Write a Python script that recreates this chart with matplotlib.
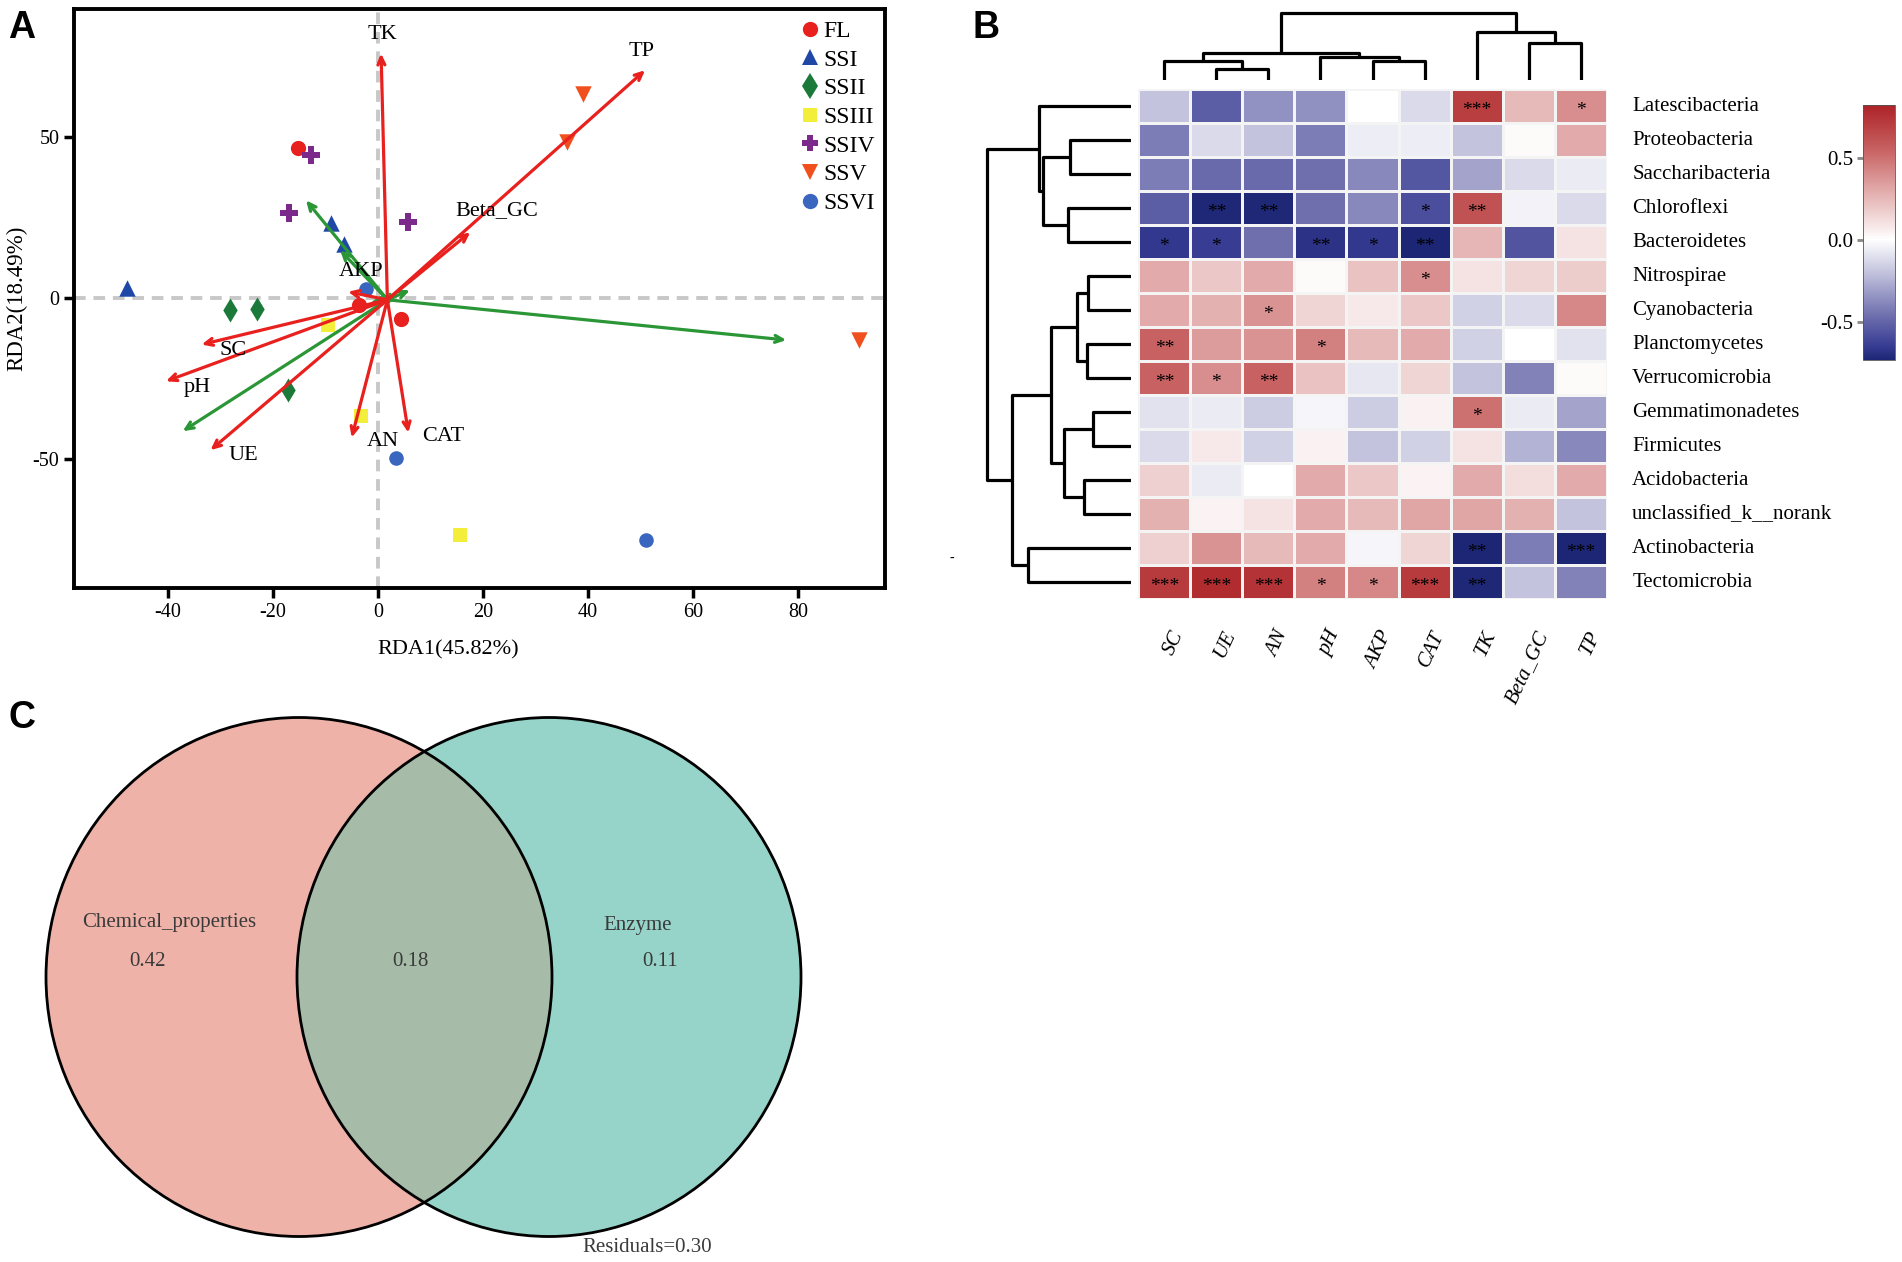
import numpy as np
import matplotlib
matplotlib.use("Agg")
import matplotlib.pyplot as plt
from matplotlib.colors import LinearSegmentedColormap, Normalize
from matplotlib.patches import Ellipse
from matplotlib.lines import Line2D

plt.rcParams['font.family'] = ['Liberation Serif', 'DejaVu Serif']
plt.rcParams['axes.unicode_minus'] = False

W, H = 1902, 1262

# ---------------- Panel A data (RDA) ----------------
groups = ["FL", "SSI", "SSII", "SSIII", "SSIV", "SSV", "SSVI"]
group_colors = ["#e8201e", "#1f48a6", "#1b7a3a", "#f2ee3a", "#7b2a8c", "#f0501e", "#3a66c0"]
group_markers = ["o", "^", "d", "s", "P", "v", "o"]
group_sizes = [120, 140, 150, 90, 150, 140, 110]

fl_x = [-15.3, -3.7, 4.4];      fl_y = [46.7, -2.2, -6.5]
ssi_x = [-47.8, -9.0, -6.4];    ssi_y = [3.3, 23.4, 16.7]
ssii_x = [-28.1, -23.0, -17.2]; ssii_y = [-3.7, -3.5, -28.4]
ssiii_x = [-9.6, -3.3, 15.6];   ssiii_y = [-8.4, -36.6, -73.6]
ssiv_x = [-12.8, -17.0, 5.8];   ssiv_y = [44.4, 26.3, 23.7]
ssv_x = [39.0, 36.1, 91.6];     ssv_y = [63.3, 48.5, -13.0]
ssvi_x = [-2.2, 3.4, 51.1];     ssvi_y = [2.9, -49.6, -75.2]
site_xs = [fl_x, ssi_x, ssii_x, ssiii_x, ssiv_x, ssv_x, ssvi_x]
site_ys = [fl_y, ssi_y, ssii_y, ssiii_y, ssiv_y, ssv_y, ssvi_y]

arrow_origin = (1.8, -0.5)
env_names = ["TK", "TP", "Beta_GC", "AKP", "SC", "pH", "UE", "AN", "CAT"]
env_x = [0.6, 50.9, 17.6, -5.7, -33.6, -40.4, -31.9, -5.0, 5.8]
env_y = [76.0, 70.8, 20.5, 2.0, -14.4, -25.8, -47.2, -43.3, -41.8]
env_label_x = [0.9, 50.2, 22.6, -3.2, -27.5, -34.4, -25.6, 1.0, 12.4]
env_label_y = [81.9, 76.5, 27.1, 8.4, -16.1, -27.7, -48.8, -44.6, -42.9]

sp_x = [77.8, -13.7, -7.2, -37.2, 6.1, 3.5, -1.5, 2.0]
sp_y = [-13.0, 30.4, 14.9, -41.3, 2.5, 0.5, -1.5, -2.5]

# ---------------- Panel B data (correlation heatmap) ----------------
taxa = ["Latescibacteria", "Proteobacteria", "Saccharibacteria", "Chloroflexi",
        "Bacteroidetes", "Nitrospirae", "Cyanobacteria", "Planctomycetes",
        "Verrucomicrobia", "Gemmatimonadetes", "Firmicutes", "Acidobacteria",
        "unclassified_k__norank", "Actinobacteria", "Tectomicrobia"]
factors = ["SC", "UE", "AN", "pH", "AKP", "CAT", "TK", "Beta_GC", "TP"]
corr = np.array([
    [-0.20, -0.52, -0.35, -0.36,  0.00, -0.12,  0.70,  0.25,  0.40],
    [-0.42, -0.12, -0.20, -0.42, -0.06, -0.06, -0.20,  0.02,  0.30],
    [-0.42, -0.48, -0.48, -0.46, -0.38, -0.55, -0.30, -0.12, -0.07],
    [-0.52, -0.72, -0.72, -0.46, -0.38, -0.58,  0.62, -0.04, -0.12],
    [-0.66, -0.64, -0.46, -0.68, -0.66, -0.74,  0.26, -0.56,  0.10],
    [ 0.30,  0.20,  0.30,  0.02,  0.22,  0.40,  0.10,  0.15,  0.18],
    [ 0.30,  0.28,  0.38,  0.15,  0.08,  0.20, -0.15, -0.12,  0.42],
    [ 0.55,  0.35,  0.38,  0.45,  0.25,  0.30, -0.15,  0.00, -0.10],
    [ 0.55,  0.40,  0.55,  0.22, -0.08,  0.15, -0.20, -0.40,  0.02],
    [-0.10, -0.07, -0.17, -0.03, -0.17,  0.05,  0.50, -0.07, -0.30],
    [-0.12,  0.08, -0.15,  0.05, -0.20, -0.15,  0.10, -0.25, -0.38],
    [ 0.17, -0.07,  0.00,  0.30,  0.20,  0.04,  0.30,  0.12,  0.30],
    [ 0.28,  0.04,  0.10,  0.30,  0.25,  0.32,  0.32,  0.28, -0.20],
    [ 0.17,  0.38,  0.25,  0.30, -0.03,  0.15, -0.76, -0.42, -0.80],
    [ 0.72,  0.78,  0.75,  0.45,  0.42,  0.72, -0.72, -0.20, -0.40],
])
signif = [
    ["", "", "", "", "", "", "***", "", "*"],
    ["", "", "", "", "", "", "", "", ""],
    ["", "", "", "", "", "", "", "", ""],
    ["", "**", "**", "", "", "*", "**", "", ""],
    ["*", "*", "", "**", "*", "**", "", "", ""],
    ["", "", "", "", "", "*", "", "", ""],
    ["", "", "*", "", "", "", "", "", ""],
    ["**", "", "", "*", "", "", "", "", ""],
    ["**", "*", "**", "", "", "", "", "", ""],
    ["", "", "", "", "", "", "*", "", ""],
    ["", "", "", "", "", "", "", "", ""],
    ["", "", "", "", "", "", "", "", ""],
    ["", "", "", "", "", "", "", "", ""],
    ["", "", "", "", "", "", "**", "", "***"],
    ["***", "***", "***", "*", "*", "***", "**", "", ""],
]
# dendrogram merges: (node_a, node_b, height)
col_merges = [(1, 2, 11), (0, 9, 19), (4, 5, 19), (3, 11, 23.3),
              (10, 12, 26.7), (7, 8, 37.3), (6, 14, 47.7), (13, 15, 66.7)]
row_merges = [(1, 2, 60.7), (3, 4, 63), (15, 16, 88), (0, 17, 91.4),
              (5, 6, 42.4), (7, 8, 44), (19, 20, 53.4), (9, 10, 37.4),
              (11, 12, 46.4), (22, 23, 66.4), (21, 24, 80), (13, 14, 102.4),
              (25, 26, 119), (18, 27, 144)]
cbar_ticks = [-0.5, 0.0, 0.5]

# ---------------- Panel C data (variance partitioning) ----------------
venn_sets = ["Chemical_properties", "Enzyme"]
venn_unique = [0.42, 0.11]
venn_shared = 0.18
venn_residual = 0.30

fig = plt.figure(figsize=(W / 100, H / 100), dpi=100)

def fx(px):
    return px / W

def fy(py):
    return 1 - py / H

# ================= Panel A =================
axA = fig.add_axes([fx(74), fy(588), 811 / W, 579 / H])
axA.set_xlim(-57.9, 96.6)
axA.set_ylim(-90, 89.8)
axA.axhline(0, color="#c8c8c8", lw=2.8, ls=(0, (3, 2)), zorder=0)
axA.axvline(0, color="#c8c8c8", lw=2.8, ls=(0, (3, 2)), zorder=0)

for gx, gy, c, m, s in zip(site_xs, site_ys, group_colors, group_markers, group_sizes):
    axA.scatter(gx, gy, c=c, marker=m, s=s, linewidths=0, zorder=3)

for ex, ey in zip(sp_x, sp_y):
    axA.annotate("", xy=(ex, ey), xytext=arrow_origin,
                 arrowprops=dict(arrowstyle="->,head_length=0.55,head_width=0.25",
                                 color="#2b9636", lw=2.3, shrinkA=0, shrinkB=0), zorder=4)
for ex, ey in zip(env_x, env_y):
    axA.annotate("", xy=(ex, ey), xytext=arrow_origin,
                 arrowprops=dict(arrowstyle="->,head_length=0.55,head_width=0.25",
                                 color="#e8201e", lw=2.3, shrinkA=0, shrinkB=0), zorder=5)
for name, lx, ly in zip(env_names, env_label_x, env_label_y):
    axA.text(lx, ly, name, fontsize=16, ha="center", va="center", zorder=6)

for sp in axA.spines.values():
    sp.set_linewidth(2.8)
axA.set_xticks([-40, -20, 0, 20, 40, 60, 80])
axA.set_yticks([-50, 0, 50])
axA.tick_params(axis="both", length=7, width=2.5, labelsize=14.5, direction="out")
axA.set_xlabel("RDA1(45.82%)", fontsize=16)
axA.set_ylabel("RDA2(18.49%)", fontsize=16.5)
axA.xaxis.set_label_coords(0.462, -0.09)
axA.yaxis.set_label_coords(-0.057, 0.5)

handles = [Line2D([0], [0], marker=m, color="none", markerfacecolor=c, markeredgewidth=0,
                  markersize=ms, linestyle="none")
           for c, m, ms in zip(group_colors, group_markers, [11, 12, 13, 10, 12, 12, 11])]
axA.legend(handles, groups, loc="upper left", bbox_to_anchor=(0.893, 0.98), frameon=False,
           fontsize=17, labelspacing=0.3, handletextpad=0.05, handlelength=1.0,
           borderpad=0, borderaxespad=0)

fig.text(fx(8), fy(38), "A", fontsize=27, fontweight="bold", family="Liberation Sans")

# ================= Panel B =================
cmap = LinearSegmentedColormap.from_list(
    "nwf", [(0.0, "#1c2674"), (0.05, "#363b92"), (0.18, "#7272b0"), (0.34, "#c2c2dd"),
            (0.471, "#ffffff"), (0.665, "#e2abab"), (0.826, "#c86262"), (1.0, "#ad2327")])
norm = Normalize(vmin=-0.73, vmax=0.82)

hl, hr, ht, hb = 1138.3, 1606.7, 89.3, 599.3
axH = fig.add_axes([fx(hl), fy(hb), (hr - hl) / W, (hb - ht) / H])
mesh = axH.pcolormesh(np.arange(len(factors) + 1), np.arange(len(taxa) + 1), corr,
                      cmap=cmap, norm=norm, edgecolors="#f4f4f4", linewidth=0.8)
axH.set_xlim(0, len(factors))
axH.set_ylim(len(taxa), 0)
axH.axis("off")
for i in range(len(taxa)):
    for j in range(len(factors)):
        if signif[i][j]:
            axH.text(j + 0.5, i + 0.62, signif[i][j], ha="center", va="center",
                     fontsize=14, color="black")
for i, t in enumerate(taxa):
    axH.text(9.49, i + 0.5, t, ha="left", va="center", fontsize=15, clip_on=False)
for j, f in enumerate(factors):
    axH.text(j + 0.62, 15.85, f, ha="right", va="top", rotation=65,
             rotation_mode="anchor", fontsize=15, style="italic", clip_on=False)

def draw_dendro(ax, merges, nleaves, orient):
    pos = {i: i + 0.5 for i in range(nleaves)}
    hgt = {i: 0.0 for i in range(nleaves)}
    for k, (a, b, h) in enumerate(merges):
        node = nleaves + k
        pa, pb, ha_, hb_ = pos[a], pos[b], hgt[a], hgt[b]
        xs = [pa, pa, pb, pb]
        ys = [ha_, h, h, hb_]
        if orient == "top":
            ax.plot(xs, ys, color="black", lw=2.3, solid_capstyle="butt")
        else:
            ax.plot(ys, xs, color="black", lw=2.3, solid_capstyle="butt")
        pos[node] = (pa + pb) / 2
        hgt[node] = h

axCD = fig.add_axes([fx(hl), fy(80), (hr - hl) / W, 74 / H])
axCD.set_xlim(0, len(factors))
axCD.set_ylim(0, 74)
axCD.axis("off")
draw_dendro(axCD, col_merges, len(factors), "top")

axRD = fig.add_axes([fx(980), fy(hb), (1130.7 - 980) / W, (hb - ht) / H])
axRD.set_xlim(150.7, 0)
axRD.set_ylim(len(taxa), 0)
axRD.axis("off")
draw_dendro(axRD, row_merges, len(taxa), "left")

cax = fig.add_axes([fx(1863.3), fy(360), 31.7 / W, 255 / H])
cb = fig.colorbar(mesh, cax=cax, ticks=cbar_ticks)
cb.ax.yaxis.set_ticks_position("left")
cb.ax.set_yticklabels(["-0.5", "0.0", "0.5"])
cb.ax.tick_params(length=4, width=2, color="#888888", labelsize=15)
cb.outline.set_linewidth(0.6)
cb.outline.set_edgecolor("#555555")

fig.text(fx(952), fy(558), "-", fontsize=10, ha="center", va="center")
fig.text(fx(972), fy(38), "B", fontsize=27, fontweight="bold", family="Liberation Sans")

# ================= Panel C =================
axC = fig.add_axes([0, 0, 900 / W, 562 / H])
axC.set_xlim(0, 900)
axC.set_ylim(1262, 700)
axC.axis("off")
e_left = Ellipse((299, 977), 506, 519, facecolor="#eeb2a8", edgecolor="none")
e_right = Ellipse((549, 977), 504, 519, facecolor="#96d4c9", edgecolor="none")
axC.add_patch(e_left)
axC.add_patch(e_right)
e_mid = Ellipse((299, 977), 506, 519, facecolor="#a6bca8", edgecolor="none")
axC.add_patch(e_mid)
e_mid.set_clip_path(e_right)
axC.add_patch(Ellipse((299, 977), 506, 519, fill=False, edgecolor="black", lw=2))
axC.add_patch(Ellipse((549, 977), 504, 519, fill=False, edgecolor="black", lw=2))
tc = "#3a3a3a"
axC.text(169, 922, venn_sets[0], ha="center", va="center", fontsize=15, color=tc)
axC.text(148, 961, f"{venn_unique[0]:.2f}", ha="center", va="center", fontsize=15, color=tc)
axC.text(410, 961, f"{venn_shared:.2f}", ha="center", va="center", fontsize=15, color=tc)
axC.text(638, 925, venn_sets[1], ha="center", va="center", fontsize=15, color=tc)
axC.text(660, 961, f"{venn_unique[1]:.2f}", ha="center", va="center", fontsize=15, color=tc)
axC.text(647, 1247, f"Residuals={venn_residual:.2f}", ha="center", va="center", fontsize=15, color=tc)
fig.text(fx(8), fy(728), "C", fontsize=27, fontweight="bold", family="Liberation Sans")

fig.savefig("out.png", dpi=100)
